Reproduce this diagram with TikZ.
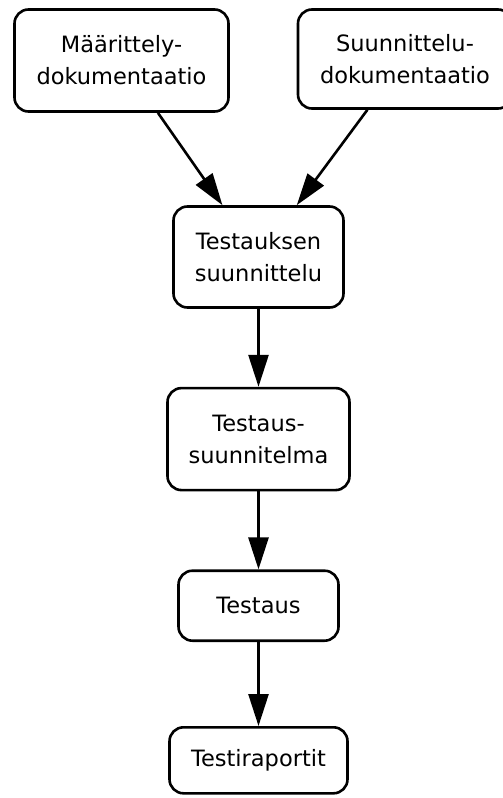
\documentclass[tikz,border=0pt]{standalone}
\usepackage{fontspec}
\setmainfont{DejaVu Sans}
\usetikzlibrary{arrows.meta,positioning}
\tikzset{
  box/.style={rectangle, draw, rounded corners=14pt, line width=2.6pt, align=center, inner sep=0pt, font=\fontsize{22.5}{32}\selectfont},
  doc/.style={box, minimum width=214pt, minimum height=102pt},
  phase/.style={box, minimum height=102pt},
  result/.style={box, minimum height=70pt},
  arr/.style={-{Triangle[length=32pt,width=20pt]}, line width=2.6pt}
}

\begin{document}
\begin{tikzpicture}[x=1pt, y=1pt, node distance=78pt]
\useasboundingbox (0,0) rectangle (503,-798);
\node[doc] (maar) at (121.5,-60.5) {Määrittely-\\dokumentaatio};
\node[doc, minimum height=99pt] (suun) at (405,-59) {Suunnittelu-\\dokumentaatio};
\node[phase, minimum width=170pt, minimum height=101pt] (tsuun) at (258.5,-257) {Testauksen\\suunnittelu};
\node[phase, minimum width=182pt, below=of tsuun] (tsuunn) {Testaus-\\suunnitelma};
\node[result, minimum width=160pt, below=of tsuunn] (testaus) {Testaus};
\node[result, minimum width=178pt, minimum height=66pt, below=84pt of testaus] (rap) {Testiraportit};

\draw[arr] (maar) -- (tsuun); \draw[arr] (suun) -- (tsuun);
\draw[arr] (tsuun) -- (tsuunn); \draw[arr] (tsuunn) -- (testaus); \draw[arr] (testaus) -- (rap);
\end{tikzpicture}
\end{document}
